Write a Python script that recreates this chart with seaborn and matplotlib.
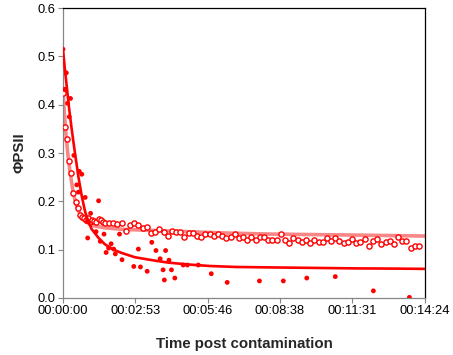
import numpy as np
import pandas as pd
import matplotlib
matplotlib.use("Agg")
import matplotlib.pyplot as plt
import seaborn as sns

# tick labels of the time axis (h:m:s)
tick_labels = ["00:00:00", "00:02:53", "00:05:46", "00:08:38", "00:11:31", "00:14:24"]

# filled dots (seconds, PhiPSII)
filled_t = [0, 4, 8, 11, 15, 18, 26, 33, 37, 39, 45, 53, 58, 59, 66, 79, 85, 89, 98, 103,
            109, 115, 121, 125, 135, 141, 169, 180, 185, 201, 212, 222, 232, 239, 242, 245,
            253, 259, 267, 287, 297, 323, 354, 392, 469, 526, 582, 650, 741, 827]
filled_y = [0.515, 0.432, 0.466, 0.403, 0.375, 0.413, 0.295, 0.234, 0.219, 0.262, 0.256,
            0.208, 0.158, 0.124, 0.175, 0.137, 0.201, 0.117, 0.132, 0.094, 0.103, 0.112,
            0.101, 0.091, 0.132, 0.079, 0.065, 0.101, 0.064, 0.055, 0.115, 0.098, 0.081,
            0.058, 0.037, 0.098, 0.078, 0.058, 0.041, 0.068, 0.068, 0.068, 0.050, 0.032,
            0.035, 0.035, 0.041, 0.044, 0.0145, 0.001]

# open circles: every 5 s up to 100 s, then every 10 s
open_t = list(range(0, 101, 5)) + list(range(110, 851, 10))
open_y = [0.425, 0.354, 0.328, 0.284, 0.259, 0.217, 0.199, 0.186, 0.172, 0.168, 0.165,
          0.161, 0.165, 0.158, 0.161, 0.159, 0.158, 0.163, 0.161, 0.158, 0.156,
          0.156, 0.155, 0.153, 0.155, 0.139, 0.151, 0.155, 0.150, 0.144, 0.146,
          0.134, 0.136, 0.143, 0.136, 0.128, 0.139, 0.136, 0.136, 0.126, 0.134,
          0.134, 0.129, 0.126, 0.132, 0.132, 0.129, 0.132, 0.129, 0.124, 0.127,
          0.132, 0.123, 0.127, 0.120, 0.127, 0.120, 0.125, 0.125, 0.120, 0.120,
          0.120, 0.132, 0.120, 0.113, 0.123, 0.120, 0.116, 0.120, 0.113, 0.120,
          0.116, 0.115, 0.124, 0.118, 0.124, 0.118, 0.113, 0.115, 0.121, 0.113,
          0.115, 0.122, 0.108, 0.118, 0.122, 0.111, 0.115, 0.118, 0.112, 0.126,
          0.118, 0.118, 0.103, 0.108, 0.108]

# trend lines
fit_filled_t = [0, 5, 10, 15, 20, 27, 37, 45, 53, 60, 68, 85, 100, 120, 140, 172, 220,
                251, 300, 350, 411, 500, 600, 700, 800, 864]
fit_filled_y = [0.515, 0.47, 0.43, 0.39, 0.355, 0.31, 0.25, 0.21, 0.178, 0.16, 0.143,
                0.124, 0.111, 0.100, 0.093, 0.084, 0.077, 0.073, 0.069, 0.066, 0.064,
                0.063, 0.062, 0.061, 0.0605, 0.060]
fit_open_t = [0, 4, 8, 12, 17, 25, 35, 50, 68, 100, 140, 200, 300, 400, 500, 600, 700, 864]
fit_open_y = [0.43, 0.375, 0.33, 0.295, 0.26, 0.215, 0.183, 0.161, 0.150, 0.145, 0.142,
              0.140, 0.137, 0.134, 0.132, 0.131, 0.130, 0.128]

tick_pos = [int(h) * 3600 + int(m) * 60 + int(s) for h, m, s in (t.split(":") for t in tick_labels)]

sns.set_theme(style="white")
plt.rcParams["font.family"] = ["Liberation Sans", "DejaVu Sans"]

fig = plt.figure(figsize=(4.53, 3.55), dpi=100)
ax = fig.add_axes([0.139, 0.161, 0.799, 0.816])

filled = pd.DataFrame({"t": filled_t, "y": filled_y})
opened = pd.DataFrame({"t": open_t, "y": open_y})
fit_f = pd.DataFrame({"t": fit_filled_t, "y": fit_filled_y})
fit_o = pd.DataFrame({"t": fit_open_t, "y": fit_open_y})

sns.scatterplot(data=opened, x="t", y="y", ax=ax, s=14, facecolor="white",
                edgecolor="#FF0000", linewidth=1.0, zorder=3)
sns.lineplot(data=fit_o, x="t", y="y", ax=ax, color="#F87272", linewidth=2.6, alpha=0.85, zorder=2)
sns.scatterplot(data=filled, x="t", y="y", ax=ax, s=12, color="#FF0000",
                edgecolor="none", zorder=4)
sns.lineplot(data=fit_f, x="t", y="y", ax=ax, color="#FF0000", linewidth=1.9, zorder=5)

ax.set_xlim(0, 864)
ax.set_ylim(0, 0.6)
ax.set_xticks(tick_pos)
ax.set_xticklabels(tick_labels)
ax.set_yticks(np.arange(0, 0.61, 0.1))
ax.set_yticklabels([f"{v:.1f}" for v in np.arange(0, 0.61, 0.1)])
ax.tick_params(axis="both", direction="out", length=3.5, width=0.8, color="#868686",
               labelsize=9.3, labelcolor="black", pad=2, bottom=True, left=True)

for side in ["left", "bottom"]:
    ax.spines[side].set_color("#868686")
    ax.spines[side].set_linewidth(0.9)
for side in ["top", "right"]:
    ax.spines[side].set_color("black")
    ax.spines[side].set_linewidth(0.9)

ax.set_xlabel("Time post contamination", fontsize=10.8, fontweight="bold", labelpad=14)
ax.set_ylabel("ΦPSII", fontsize=10.8, fontweight="bold", labelpad=8)

fig.savefig("out.png", dpi=100)
